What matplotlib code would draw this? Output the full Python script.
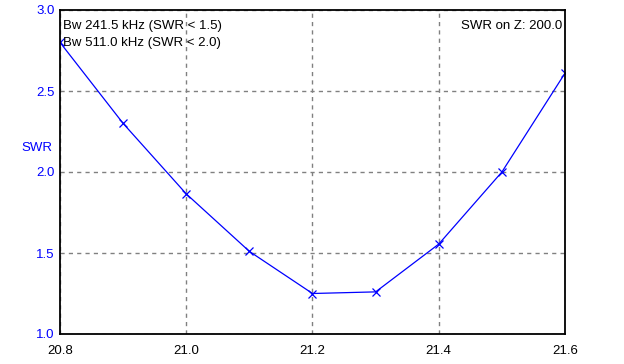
import matplotlib
matplotlib.use("Agg")
import matplotlib.pyplot as plt

freq = [20.8, 20.9, 21.0, 21.1, 21.2, 21.3, 21.4, 21.5, 21.6]
swr = [2.80, 2.30, 1.865, 1.51, 1.25, 1.26, 1.555, 2.00, 2.61]
xticks = [20.8, 21.0, 21.2, 21.4, 21.6]
yticks = [1.0, 1.5, 2.0, 2.5, 3.0]
ann_left = ["Bw 241.5 kHz (SWR < 1.5)", "Bw 511.0 kHz (SWR < 2.0)"]
ann_right = "SWR on Z: 200.0"

plt.rcParams['font.family'] = ['Liberation Sans', 'DejaVu Sans']
fs = 9.5
fig = plt.figure(figsize=(6.24, 3.64), dpi=100)
ax = fig.add_axes([60/624, 30/364, 505/624, 324/364])
ax.plot(freq, swr, color='#0000ff', lw=0.9, marker='x', ms=6, mew=0.9)
ax.set_xlim(20.8, 21.6)
ax.set_ylim(1.0, 3.0)
ax.set_xticks(xticks)
ax.set_xticklabels([f"{v:.1f}" for v in xticks])
ax.set_yticks(yticks)
ax.set_yticklabels([f"{v:.1f}" for v in yticks])
ax.tick_params(axis='both', length=0, labelsize=fs)
ax.tick_params(axis='y', colors='#0000ff', pad=4)
ax.tick_params(axis='x', colors='black', pad=8)
ax.grid(True, ls=(0, (3, 3)), color='#808080', lw=1)
for s in ax.spines.values():
    s.set_linewidth(1.3)
    s.set_color('black')
ax.text(-0.0455, 0.575, "SWR", transform=ax.transAxes, color='#0000ff', fontsize=fs,
        ha='center', va='center')
for i, t in enumerate(ann_left):
    ax.text(0.006, 0.95 - i * 0.053, t, transform=ax.transAxes, fontsize=fs,
            ha='left', va='center', color='black')
ax.text(0.994, 0.95, ann_right, transform=ax.transAxes, fontsize=fs,
        ha='right', va='center', color='black')
fig.savefig("out.png", dpi=100)
